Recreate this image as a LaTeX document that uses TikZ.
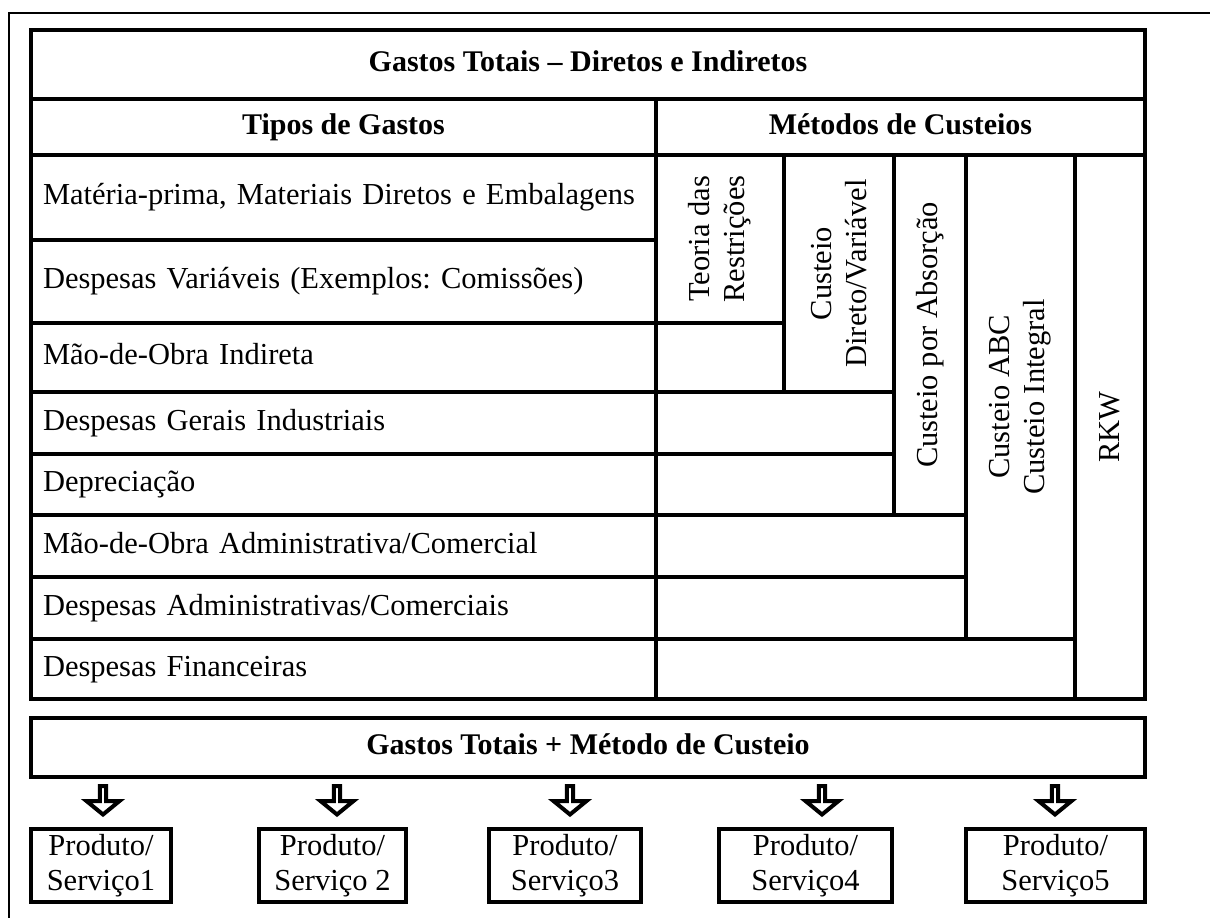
\documentclass[tikz,border=0pt]{standalone}
\usepackage{fontspec}
\setmainfont{Liberation Serif}
\newcommand\mycell[7]{\node[tbl,#6,minimum width={#4-#2},minimum height={#5-#3}] (#1) at ({(#2+#4)/2},{(#3+#5)/2}) {#7};}
\newcommand\myvcell[7]{\node[tbl,rotate=90,align=center,#6,minimum width={#5-#3},minimum height={#4-#2}] (#1) at ({(#2+#4)/2},{(#3+#5)/2}) {#7};}
\newcommand\myrow[5]{\node[tbl,minimum width=625,minimum height={#3-#2},text width=601pt,inner xsep=12pt,align=left,text height=21pt,text depth=7pt] (#1) at (343.5,{(#2+#3)/2}) {#4};}
\begin{document}
\frenchspacing
\begin{tikzpicture}[x=1pt,y=-1pt,
  every node/.style={font=\fontsize{30.5}{35}\selectfont\frenchspacing, inner sep=0pt, outer sep=0pt},
  tbl/.style={draw, line width=4.5pt, rectangle},
  hdr/.style={font=\fontsize{30}{35}\selectfont\bfseries\frenchspacing, text height=21pt, text depth=7pt},
  hollowarrow/.style={draw, line width=4pt, fill=white, line join=miter},
  prod/.style={draw, line width=4.5pt, rectangle, align=center, minimum height=73}]
\useasboundingbox (0,0) rectangle (1210,918);
% outer frame (top and left only)
\coordinate (fa) at (9,918);
\coordinate (fb) at (9,13);
\coordinate (fc) at (1210,13);
\draw[line width=2pt] (fa) -- (fb) -- (fc);
% header
\mycell{title}{31}{30}{1145}{99}{hdr}{Gastos Totais – Diretos e Indiretos}
\mycell{tipos}{31}{99}{656}{155}{hdr}{Tipos de Gastos}
\mycell{metodos}{656}{99}{1145}{155}{hdr}{Métodos de Custeios}
% left rows
\myrow{r1}{155}{240}{Matéria-prima, Materiais Diretos e Embalagens}{}
\myrow{r2}{240}{323}{Despesas Variáveis (Exemplos: Comissões)}{}
\myrow{r3}{323}{392}{Mão-de-Obra Indireta}{}
\myrow{r4}{392}{454}{Despesas Gerais Industriais}{}
\myrow{r5}{454}{515}{Depreciação}{}
\myrow{r6}{515}{577}{Mão-de-Obra Administrativa/Comercial}{}
\myrow{r7}{577}{639}{Despesas Administrativas/Comerciais}{}
\myrow{r8}{639}{699}{Despesas Financeiras}{}
% empty cells
\mycell{e1}{656}{323}{784}{392}{}{}
\mycell{e2}{656}{392}{894}{454}{}{}
\mycell{e3}{656}{454}{894}{515}{}{}
\mycell{e4}{656}{515}{966}{577}{}{}
\mycell{e5}{656}{577}{966}{639}{}{}
\mycell{e6}{656}{639}{1075}{699}{}{}
% method columns
\myvcell{teoria}{656}{155}{784}{323}{}{Teoria das\\Restrições}
\myvcell{direto}{784}{155}{894}{392}{}{Custeio\\Direto/Variável}
\myvcell{absorcao}{894}{155}{966}{515}{}{Custeio por Absorção}
\myvcell{abc}{966}{155}{1075}{639}{}{Custeio ABC\\Custeio Integral}
\myvcell{rkw}{1075}{155}{1145}{699}{}{RKW}
% bottom box
\mycell{total}{31}{718}{1145}{777}{hdr}{Gastos Totais + Método de Custeio}
% products
\node[prod, minimum width=140] (p1) at (101,865.5) {Produto/\\Serviço1};
\node[prod, minimum width=147] (p2) at (332.5,865.5) {Produto/\\Serviço 2};
\node[prod, minimum width=152] (p3) at (565,865.5) {Produto/\\Serviço3};
\node[prod, minimum width=173] (p4) at (805.5,865.5) {Produto/\\Serviço4};
\node[prod, minimum width=179] (p5) at (1055.5,865.5) {Produto/\\Serviço5};
% arrows
\foreach \i/\x in {1/103,2/337,3/570,4/822,5/1055}{
  \coordinate (a\i) at (\x,786);
  \draw[hollowarrow] (a\i) ++(-3.2,0) -- ++(0,15) -- ++(-13.3,0) -- ++(16.5,13.5) -- ++(16.5,-13.5) -- ++(-13.3,0) -- ++(0,-15) -- cycle;
}
\end{tikzpicture}
\end{document}
